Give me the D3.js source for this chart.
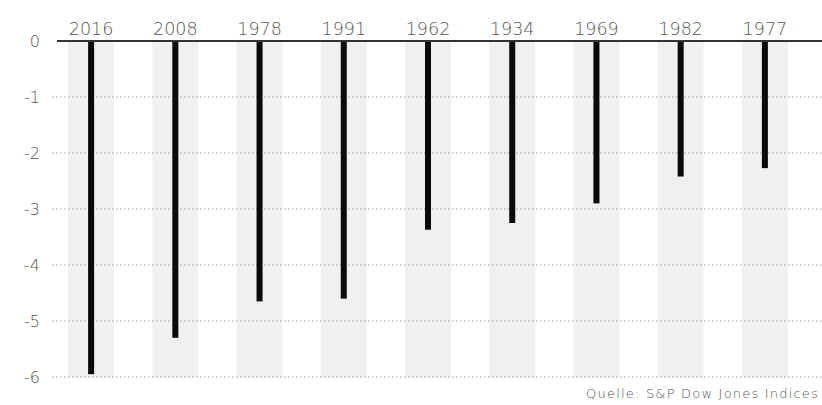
<!DOCTYPE html>
<html>
<head>
<meta charset="utf-8">
<script src="https://cdn.jsdelivr.net/npm/d3@7"></script>
<style>
  html, body { margin: 0; padding: 0; background: #fff; }
  svg { display: block; }
  text { font-family: "DejaVu Sans", sans-serif; font-weight: 200; fill: #555; }
</style>
</head>
<body>
<svg id="chart" width="822" height="405"></svg>
<script>
// Years ranked by the size of the decline (percent)
const years = ["2016", "2008", "1978", "1991", "1962", "1934", "1969", "1982", "1977"];
const changes = [-5.95, -5.3, -4.65, -4.6, -3.37, -3.25, -2.9, -2.42, -2.27];
const yTicks = [0, -1, -2, -3, -4, -5, -6];
const sourceNote = "Quelle: S&P Dow Jones Indices";

const svg = d3.select("#chart");
const W = 822;

const x = d3.scaleBand().domain(years).range([49, 807]).paddingInner(0).paddingOuter(0);
const y = d3.scaleLinear().domain([-6, 0]).range([377, 41]);

const bandW = 46;

// light columns behind each bar
svg.append("g").selectAll("rect")
  .data(years)
  .join("rect")
  .attr("x", d => x(d) + x.bandwidth() / 2 - bandW / 2)
  .attr("width", bandW)
  .attr("y", y(0))
  .attr("height", y(-6) - y(0))
  .attr("fill", "#f0f0f0");

// dotted gridlines
svg.append("g").selectAll("line")
  .data(yTicks.filter(t => t !== 0))
  .join("line")
  .attr("x1", 52).attr("x2", W)
  .attr("y1", d => y(d)).attr("y2", d => y(d))
  .attr("stroke", "#9a9a9a")
  .attr("stroke-width", 1)
  .attr("stroke-dasharray", "1.5,2.5");

// y axis labels
const yAxis = d3.axisLeft(y).tickValues(yTicks).tickSize(0).tickPadding(0)
  .tickFormat(d => d === 0 ? "0" : "-" + Math.abs(d));
const gy = svg.append("g").attr("transform", "translate(40,0)").call(yAxis);
gy.select(".domain").remove();
gy.selectAll("text")
  .attr("font-size", 16)
  .attr("font-family", null)
  .attr("fill", "#5a5a5a");

// bars
svg.append("g").selectAll("rect")
  .data(years.map((d, i) => ({ year: d, v: changes[i] })))
  .join("rect")
  .attr("x", d => x(d.year) + x.bandwidth() / 2 - 3)
  .attr("width", 6)
  .attr("y", y(0))
  .attr("height", d => y(d.v) - y(0))
  .attr("fill", "#0a0a0a");

// zero line
svg.append("line")
  .attr("x1", 57).attr("x2", W)
  .attr("y1", y(0)).attr("y2", y(0))
  .attr("stroke", "#333")
  .attr("stroke-width", 2);

// year labels above zero line
const xAxis = d3.axisTop(x).tickSize(0).tickPadding(6);
const gx = svg.append("g").attr("transform", `translate(0,${y(0)})`).call(xAxis);
gx.select(".domain").remove();
gx.selectAll("text")
  .attr("font-size", 17.5)
  .attr("font-family", null)
  .attr("fill", "#5a5a5a");

// source note, right-aligned in the bottom corner
svg.append("text")
  .attr("x", 819)
  .attr("y", 398)
  .attr("text-anchor", "end")
  .attr("font-size", 13)
  .attr("letter-spacing", 1.2)
  .attr("fill", "#666")
  .text(sourceNote);
</script>
</body>
</html>
